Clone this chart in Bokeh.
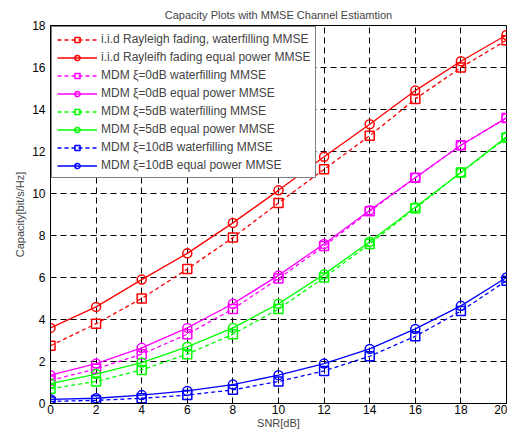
from bokeh.plotting import figure
from bokeh.models import Legend, LegendItem, FixedTicker, Range1d
from bokeh.embed import file_html
from bokeh.resources import INLINE

snr = [0, 2, 4, 6, 8, 10, 12, 14, 16, 18, 20]

iid_wf = [2.75, 3.8, 5.0, 6.4, 7.9, 9.55, 11.15, 12.75, 14.5, 16.0, 17.3]
iid_ep = [3.6, 4.6, 5.9, 7.15, 8.6, 10.15, 11.75, 13.3, 14.9, 16.3, 17.55]
mdm0_wf = [1.1, 1.65, 2.35, 3.3, 4.5, 5.95, 7.5, 9.15, 10.75, 12.3, 13.6]
mdm0_ep = [1.35, 1.9, 2.65, 3.6, 4.75, 6.1, 7.6, 9.2, 10.75, 12.3, 13.6]
mdm5_wf = [0.7, 1.05, 1.6, 2.35, 3.3, 4.5, 6.0, 7.6, 9.3, 11.0, 12.65]
mdm5_ep = [0.95, 1.4, 1.95, 2.7, 3.6, 4.75, 6.15, 7.7, 9.35, 11.0, 12.7]
mdm10_wf = [0.1, 0.15, 0.25, 0.4, 0.65, 1.05, 1.55, 2.25, 3.2, 4.4, 5.85]
mdm10_ep = [0.2, 0.25, 0.4, 0.6, 0.9, 1.35, 1.9, 2.6, 3.55, 4.65, 6.0]

labels = [
    "i.i.d Rayleigh fading, waterfilling MMSE",
    "i.i.d Rayleifh fading equal power MMSE",
    "MDM \u03be=0dB waterfilling MMSE",
    "MDM \u03be=0dB equal power MMSE",
    "MDM \u03be=5dB waterfilling MMSE",
    "MDM \u03be=5dB equal power MMSE",
    "MDM \u03be=10dB waterfilling MMSE",
    "MDM \u03be=10dB equal power MMSE",
]
series = [iid_wf, iid_ep, mdm0_wf, mdm0_ep, mdm5_wf, mdm5_ep, mdm10_wf, mdm10_ep]
colors = ["#ff0000", "#ff0000", "#ff00ff", "#ff00ff", "#00ff00", "#00ff00", "#0000ff", "#0000ff"]
x_ticks = [0, 2, 4, 6, 8, 10, 12, 14, 16, 18, 20]
y_ticks = [0, 2, 4, 6, 8, 10, 12, 14, 16, 18]

FONT = "Liberation Sans"

p = figure(width=507, height=431, output_backend="svg", toolbar_location=None,
           x_range=Range1d(0, 20), y_range=Range1d(0, 18),
           min_border_left=50, min_border_right=1, min_border_top=25, min_border_bottom=27)
p.title.text = "Capacity Plots with MMSE Channel Estiamtion"
p.title.align = "center"
p.title.text_font = FONT
p.title.text_font_size = "11px"
p.title.text_font_style = "normal"
p.title.offset = 0
p.title.standoff = 10

p.outline_line_color = "black"
p.outline_line_width = 1
p.background_fill_color = "white"
p.border_fill_color = "white"

for ax in [p.xaxis[0], p.yaxis[0]]:
    ax.major_tick_in = 4
    ax.major_tick_out = 0
    ax.minor_tick_line_color = None
    ax.axis_line_color = "black"
    ax.major_label_text_font = FONT
    ax.major_label_text_font_size = "12px"
    ax.major_label_text_color = "black"
    ax.axis_label_text_font = FONT
    ax.axis_label_text_font_size = "11px"
    ax.axis_label_text_font_style = "normal"
p.xaxis.ticker = FixedTicker(ticks=x_ticks)
p.yaxis.ticker = FixedTicker(ticks=y_ticks)
p.xaxis.axis_label = "SNR[dB]"
p.yaxis.axis_label = "Capacity[bit/s/Hz]"
p.xaxis.major_label_standoff = 1
p.xaxis.axis_label_standoff = 0
p.yaxis.major_label_standoff = 5
p.yaxis.axis_label_standoff = 3

p.xgrid.ticker = FixedTicker(ticks=x_ticks)
p.ygrid.ticker = FixedTicker(ticks=y_ticks)
for g in [p.xgrid[0], p.ygrid[0]]:
    g.grid_line_color = "black"
    g.grid_line_dash = "6 4"
    g.grid_line_width = 1

items = []
for i, (ys, c, lab) in enumerate(zip(series, colors, labels)):
    wf = (i % 2 == 0)
    dash = "4 3" if wf else "solid"
    r1 = p.line(snr, ys, line_color=c, line_width=1.3, line_dash=dash)
    if wf:
        r2 = p.scatter(snr, ys, marker="square", size=9, line_color=c, fill_color=None, line_width=1.5)
    else:
        r2 = p.scatter(snr, ys, marker="circle", size=9, line_color=c, fill_color=None, line_width=1.5)
    items.append(LegendItem(label=lab, renderers=[r1, r2]))

legend = Legend(items=items, location="top_left")
legend.border_line_color = "black"
legend.border_line_width = 1.5
legend.label_text_font = FONT
legend.label_text_font_size = "12px"
legend.label_height = 13
legend.glyph_height = 13
legend.glyph_width = 40
legend.spacing = 4
legend.padding = 5
legend.margin = 1
legend.label_standoff = 4
legend.background_fill_alpha = 1.0
p.add_layout(legend)

open("out.html", "w").write(file_html(p, INLINE))
